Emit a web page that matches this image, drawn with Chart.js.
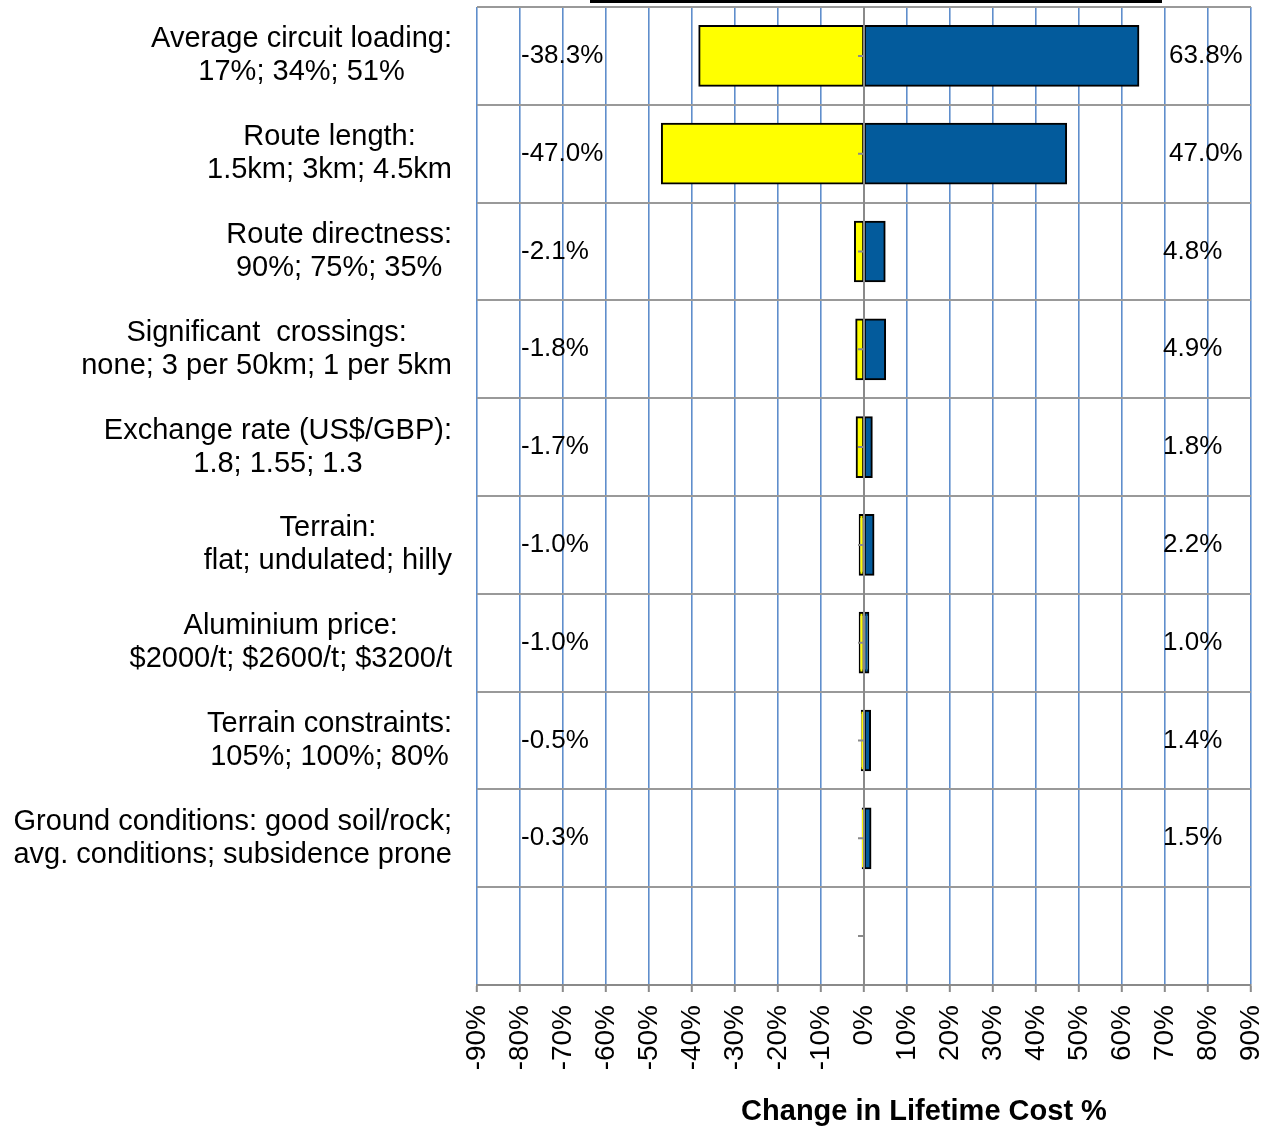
<!DOCTYPE html>
<html>
<head>
<meta charset="utf-8">
<script src="https://cdn.jsdelivr.net/npm/chart.js@4.4.1/dist/chart.umd.min.js"></script>
<style>
  body { margin: 0; background: #fff; }
  #wrap { position: relative; width: 1270px; height: 1130px; }
  #legendEdge { position: absolute; left: 590px; top: 0; width: 572px; height: 3px; background: #000; }
</style>
</head>
<body>
<div id="wrap">
  <canvas id="tornado"></canvas>
  <div id="legendEdge"></div>
</div>
<script>
// Categories (two lines each), last row left empty like the original
const categories = [
    ['Average circuit loading:', '17%; 34%; 51%'],
    ['Route length:', '1.5km; 3km; 4.5km'],
    ['Route directness:', '90%; 75%; 35%'],
    ['Significant  crossings:', 'none; 3 per 50km; 1 per 5km'],
    ['Exchange rate (US$/GBP):', '1.8; 1.55; 1.3'],
    ['Terrain:', 'flat; undulated; hilly'],
    ['Aluminium price:', '$2000/t; $2600/t; $3200/t'],
    ['Terrain constraints:', '105%; 100%; 80%'],
    ['Ground conditions: good soil/rock;', 'avg. conditions; subsidence prone'],
    ['', '']
];
const lowValues  = [-38.3, -47.0, -2.1, -1.8, -1.7, -1.0, -1.0, -0.5, -0.3, null];
const highValues = [63.8, 47.0, 4.8, 4.9, 1.8, 2.2, 1.0, 1.4, 1.5, null];
const xMin = -90, xMax = 90, xStep = 10;

const FONT = '"Liberation Sans", Arial, sans-serif';
const ctx = document.getElementById('tornado');

// labels, value texts, zero axis drawn on top of the bars
const overlay = {
    id: 'overlay',
    afterDatasetsDraw(chart) {
        const c = chart.ctx, x = chart.scales.x, y = chart.scales.y;
        const x0 = x.getPixelForValue(0);
        c.save();
        // zero axis with small ticks at category centres
        c.strokeStyle = '#8a8a8a';
        c.lineWidth = 2;
        c.beginPath();
        c.moveTo(x0, chart.chartArea.top);
        c.lineTo(x0, chart.chartArea.bottom);
        categories.forEach((_, i) => {
            const yc = y.getPixelForValue(i);
            c.moveTo(x0 - 6, yc);
            c.lineTo(x0, yc);
        });
        c.stroke();

        // value labels
        c.fillStyle = '#000';
        c.font = '26px ' + FONT;
        c.textBaseline = 'middle';
        c.textAlign = 'left';
        const leftX = x.getPixelForValue(-80) + 1;
        const rightX = x.getPixelForValue(70);
        lowValues.forEach((v, i) => {
            if (v === null) return;
            c.fillText(v.toFixed(1) + '%', leftX, y.getPixelForValue(i));
        });
        highValues.forEach((v, i) => {
            if (v === null) return;
            const shift = Math.abs(v) >= 10 ? 4 : -2;
            c.fillText(v.toFixed(1) + '%', rightX + shift, y.getPixelForValue(i));
        });

        // category labels: block right-aligned, lines centred
        c.font = '29px ' + FONT;
        c.textAlign = 'center';
        const rightEdge = chart.chartArea.left - 25;
        categories.forEach((lines, i) => {
            const w = Math.max(...lines.map(t => c.measureText(t).width));
            const cx = rightEdge - w / 2;
            const yc = y.getPixelForValue(i);
            c.fillText(lines[0], cx, yc - 16.5);
            c.fillText(lines[1], cx, yc + 16.5);
        });

        // axis title
        c.font = 'bold 29px ' + FONT;
        c.fillText('Change in Lifetime Cost %', x0 + 60, chart.height - 18);
        c.restore();
    }
};

new Chart(ctx, {
    type: 'bar',
    data: {
        labels: categories.map(l => l.join(' ')),
        datasets: [
            { label: 'Low', data: lowValues, backgroundColor: '#ffff00', borderColor: '#000', borderWidth: 2, borderSkipped: false, inflateAmount: 1 },
            { label: 'High', data: highValues, backgroundColor: '#035b9c', borderColor: '#000', borderWidth: 2, borderSkipped: false, inflateAmount: 1 }
        ]
    },
    options: {
        indexAxis: 'y',
        responsive: true,
        maintainAspectRatio: false,
        animation: false,
        layout: { padding: { top: 7, right: 19, left: 0, bottom: 0 } },
        datasets: { bar: { categoryPercentage: 1, barPercentage: 0.61 } },
        plugins: { legend: { display: false }, tooltip: { enabled: false } },
        scales: {
            x: {
                stacked: true,
                min: xMin,
                max: xMax,
                afterFit: s => { s.height = 145; s.paddingRight = 0; s.paddingLeft = 0; },
                ticks: {
                    stepSize: xStep,
                    autoSkip: false,
                    minRotation: 90,
                    maxRotation: 90,
                    padding: 13,
                    color: '#000',
                    font: { family: FONT, size: 28 },
                    callback: v => v + '%'
                },
                grid: {
                    color: c => c.tick && c.tick.value === 0 ? '#8a8a8a' : '#5f8ecc',
                    lineWidth: 1.6,
                    tickColor: '#8a8a8a',
                    tickLength: 7,
                    tickWidth: 2
                },
                border: { color: '#8a8a8a', width: 2 }
            },
            y: {
                stacked: true,
                afterFit: s => { s.width = 477; },
                ticks: { display: false },
                grid: { color: '#999999', lineWidth: 2, drawTicks: false, offset: true },
                border: { display: false }
            }
        }
    },
    plugins: [overlay]
});
</script>
</body>
</html>
